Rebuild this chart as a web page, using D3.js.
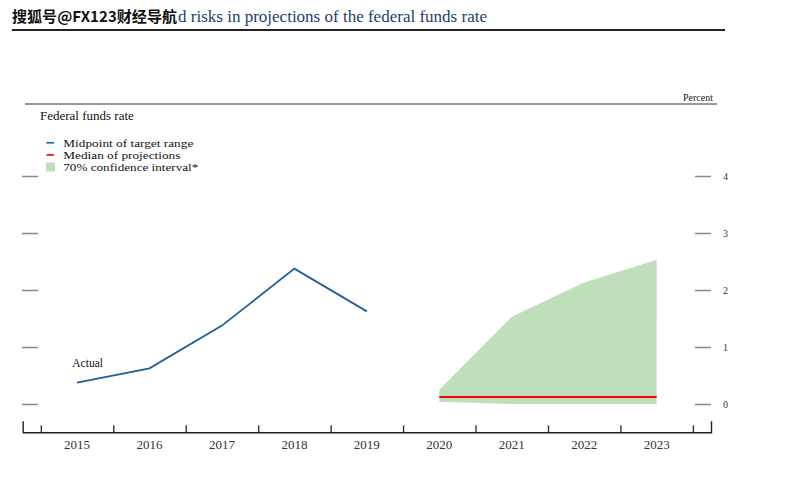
<!DOCTYPE html>
<html><head><meta charset="utf-8">
<script src="https://cdn.jsdelivr.net/npm/d3@7/dist/d3.min.js"></script>
<style>body{margin:0;background:#fff}svg{display:block}</style>
</head><body>
<svg id="c" width="798" height="496"></svg>
<script>
const actualYears = [2015, 2016, 2017, 2018, 2019];
const actualMidpoint = [0.375, 0.625, 1.375, 2.375, 1.625];
const projYears = [2020, 2021, 2022, 2023];
const medianProj = [0.125, 0.125, 0.125, 0.125];
const ciUpper = [0.25, 1.53, 2.13, 2.53];
const ciLower = [0.04, 0.0, 0.0, 0.0];
const yearLabels = [2015, 2016, 2017, 2018, 2019, 2020, 2021, 2022, 2023];
const yTicks = [0, 1, 2, 3, 4];
const legendItems = ["Midpoint of target range", "Median of projections", "70% confidence interval*"];
const legendWidths = [130, 117, 135];

const svg = d3.select("#c");
const serif = "'Liberation Serif','Times New Roman',serif";

const x = d3.scaleLinear().domain([2014.25, 2023.75]).range([22.7, 711]);
const y = d3.scaleLinear().domain([0, 4]).range([404, 176]);

// Title
svg.append("text").attr("x", 12).attr("y", 22)
  .attr("font-family", "'Noto Sans CJK SC',sans-serif").attr("font-weight", "bold")
  .attr("font-size", 15).attr("fill", "#111")
  .attr("textLength", 165).attr("lengthAdjust", "spacingAndGlyphs")
  .text("搜狐号@FX123财经导航");
svg.append("text").attr("x", 178).attr("y", 22)
  .attr("font-family", serif).attr("font-size", 16.5).attr("fill", "#1d3d6e")
  .attr("textLength", 309).attr("lengthAdjust", "spacingAndGlyphs")
  .text("d risks in projections of the federal funds rate");
svg.append("line").attr("x1", 12).attr("x2", 725).attr("y1", 30).attr("y2", 30)
  .attr("stroke", "#222").attr("stroke-width", 2.2);

// Chart top rule
svg.append("line").attr("x1", 25).attr("x2", 717).attr("y1", 104).attr("y2", 104)
  .attr("stroke", "#777").attr("stroke-width", 1.5);
svg.append("text").attr("x", 713).attr("y", 101).attr("text-anchor", "end")
  .attr("font-family", serif).attr("font-size", 10).attr("fill", "#222").text("Percent");
svg.append("text").attr("x", 40).attr("y", 120)
  .attr("font-family", serif).attr("font-size", 13).attr("fill", "#111").text("Federal funds rate");

// Legend
const lg = svg.append("g");
const lgY = [142.8, 155, 167.2];
lg.append("line").attr("x1", 46.5).attr("x2", 54).attr("y1", lgY[0]).attr("y2", lgY[0])
  .attr("stroke", "#1f5f9c").attr("stroke-width", 1.6);
lg.append("line").attr("x1", 46.5).attr("x2", 54).attr("y1", lgY[1]).attr("y2", lgY[1])
  .attr("stroke", "#ff0000").attr("stroke-width", 1.6);
lg.append("rect").attr("x", 46).attr("y", 162.5).attr("width", 9).attr("height", 9).attr("fill", "#bfdfbb");
legendItems.forEach((t, i) => {
  lg.append("text").attr("x", 63.3).attr("y", lgY[i] + 4)
    .attr("font-family", serif).attr("font-size", 10.8).attr("fill", "#111")
    .attr("textLength", legendWidths[i]).attr("lengthAdjust", "spacingAndGlyphs")
    .text(t);
});

// Y ticks left (no labels)
const yl = svg.append("g").attr("transform", "translate(22,0)")
  .call(d3.axisRight(y).tickValues(yTicks).tickSize(16).tickFormat(""));
yl.select(".domain").remove();
yl.selectAll(".tick line").attr("stroke", "#888").attr("stroke-width", 1.5);

// Y ticks right with labels
const yr = svg.append("g").attr("transform", "translate(695,0)")
  .call(d3.axisRight(y).tickValues(yTicks).tickSize(16).tickPadding(12).tickFormat(d3.format("d")));
yr.select(".domain").remove();
yr.selectAll(".tick line").attr("stroke", "#888").attr("stroke-width", 1.5);
yr.selectAll(".tick text").attr("font-family", serif).attr("font-size", 10).attr("fill", "#333");

// Confidence interval
const projData = projYears.map((yr_, i) => ({ yr: yr_, lo: ciLower[i], hi: ciUpper[i], med: medianProj[i] }));
svg.append("path").datum(projData)
  .attr("d", d3.area().x(d => x(d.yr)).y0(d => y(d.lo)).y1(d => y(d.hi)))
  .attr("fill", "#bfdfbb");
svg.append("path").datum(projData)
  .attr("d", d3.line().x(d => x(d.yr)).y(d => y(d.med)))
  .attr("fill", "none").attr("stroke", "#ff0000").attr("stroke-width", 2);

// Actual line
const actData = actualYears.map((yr_, i) => ({ yr: yr_, v: actualMidpoint[i] }));
svg.append("path").datum(actData)
  .attr("d", d3.line().x(d => x(d.yr)).y(d => y(d.v)))
  .attr("fill", "none").attr("stroke", "#1f5f9c").attr("stroke-width", 1.8);
svg.append("text").attr("x", 72.3).attr("y", 366.7)
  .attr("font-family", serif).attr("font-size", 11.5).attr("fill", "#111").text("Actual");

// X axis
const xa = svg.append("g").attr("transform", "translate(0,432.3)")
  .call(d3.axisTop(x).tickValues(yearLabels.map(v => v - 0.5).concat([2023.5])).tickSize(7).tickFormat("").tickSizeOuter(11));
xa.select(".domain").attr("stroke", "#222").attr("stroke-width", 1.4);
xa.selectAll(".tick line").attr("stroke", "#333").attr("stroke-width", 1.4);
svg.append("g").selectAll("text").data(yearLabels).join("text")
  .attr("x", d => x(d)).attr("y", 448.5).attr("text-anchor", "middle")
  .attr("font-family", serif).attr("font-size", 13).attr("fill", "#333").text(d => d);
</script>
</body></html>
